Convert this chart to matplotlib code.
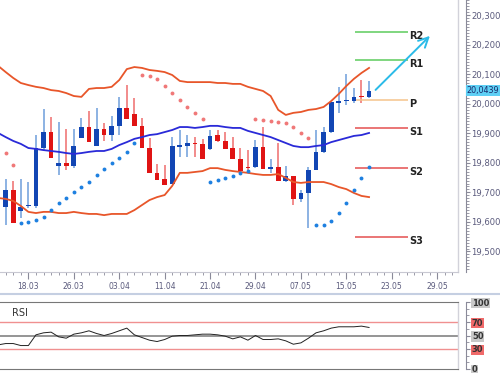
import numpy as np
import matplotlib
matplotlib.use('Agg')
import matplotlib.pyplot as plt
from matplotlib.lines import Line2D
from matplotlib.ticker import FixedLocator, MultipleLocator, FuncFormatter
import matplotlib.transforms as mtransforms

# daily candles, first one is cut off by the left edge
opens = [19.708, 19.651, 19.708, 19.637, 19.654, 19.654, 19.850, 19.904, 19.789, 19.799,
         19.789, 19.884, 19.921, 19.857, 19.914, 19.894, 19.925, 19.985, 19.965, 19.925,
         19.850, 19.766, 19.745, 19.728, 19.855, 19.857, 19.865, 19.864, 19.847, 19.894,
         19.874, 19.850, 19.813, 19.784, 19.786, 19.853, 19.779, 19.786, 19.738, 19.755,
         19.678, 19.698, 19.776, 19.837, 19.904, 20.004, 20.010, 20.009, 20.025, 20.023]
highs = [19.725, 19.745, 19.739, 19.745, 19.735, 19.894, 19.982, 19.955, 19.938, 19.914,
         19.914, 19.952, 19.975, 19.985, 19.935, 19.958, 20.023, 20.063, 20.019, 19.952,
         19.884, 19.796, 19.793, 19.887, 19.911, 19.894, 19.887, 19.881, 19.911, 19.911,
         19.904, 19.887, 19.850, 19.843, 19.877, 19.921, 19.813, 19.867, 19.789, 19.755,
         19.708, 19.786, 19.911, 19.921, 20.006, 20.057, 20.100, 20.053, 20.080, 20.077]
lows = [19.593, 19.590, 19.596, 19.613, 19.647, 19.647, 19.843, 19.816, 19.759, 19.776,
        19.782, 19.884, 19.870, 19.857, 19.874, 19.874, 19.894, 19.948, 19.925, 19.850,
        19.766, 19.742, 19.725, 19.728, 19.820, 19.820, 19.820, 19.813, 19.843, 19.870,
        19.847, 19.813, 19.769, 19.776, 19.782, 19.779, 19.766, 19.738, 19.735, 19.657,
        19.667, 19.580, 19.776, 19.833, 19.901, 19.969, 19.996, 20.002, 20.002, 20.019]
closes = [19.651, 19.708, 19.596, 19.651, 19.656, 19.850, 19.904, 19.816, 19.799, 19.789,
          19.857, 19.921, 19.870, 19.914, 19.894, 19.925, 19.985, 19.948, 19.925, 19.850,
          19.766, 19.742, 19.725, 19.857, 19.858, 19.867, 19.862, 19.813, 19.891, 19.874,
          19.847, 19.813, 19.772, 19.782, 19.853, 19.779, 19.786, 19.738, 19.755, 19.678,
          19.698, 19.776, 19.837, 19.904, 20.006, 20.007, 20.013, 20.023, 20.021, 20.044]

# bollinger bands
bb_upper = [20.128, 20.107, 20.087, 20.070, 20.063, 20.057, 20.053, 20.046, 20.043, 20.036,
            20.026, 20.023, 20.050, 20.053, 20.053, 20.057, 20.080, 20.117, 20.124, 20.121,
            20.114, 20.111, 20.107, 20.097, 20.077, 20.073, 20.073, 20.073, 20.073, 20.070,
            20.070, 20.067, 20.067, 20.057, 20.050, 20.043, 20.026, 19.979, 19.962, 19.969,
            19.972, 19.979, 19.982, 19.989, 20.009, 20.033, 20.060, 20.084, 20.104, 20.121]
bb_mid = [19.901, 19.887, 19.874, 19.864, 19.850, 19.847, 19.843, 19.840, 19.837, 19.833,
          19.830, 19.833, 19.837, 19.840, 19.840, 19.847, 19.860, 19.870, 19.881, 19.887,
          19.894, 19.897, 19.904, 19.911, 19.921, 19.921, 19.918, 19.921, 19.925, 19.925,
          19.921, 19.918, 19.918, 19.908, 19.901, 19.894, 19.887, 19.877, 19.867, 19.857,
          19.853, 19.853, 19.857, 19.860, 19.870, 19.877, 19.884, 19.891, 19.894, 19.901]
bb_lower = [19.681, 19.678, 19.671, 19.654, 19.634, 19.630, 19.634, 19.634, 19.630, 19.630,
            19.634, 19.630, 19.627, 19.627, 19.623, 19.627, 19.627, 19.627, 19.640, 19.657,
            19.674, 19.684, 19.691, 19.722, 19.766, 19.766, 19.769, 19.772, 19.782, 19.782,
            19.776, 19.772, 19.769, 19.766, 19.762, 19.759, 19.759, 19.762, 19.749, 19.735,
            19.732, 19.735, 19.735, 19.735, 19.728, 19.718, 19.711, 19.698, 19.688, 19.684]

# parabolic sar
sar = [np.nan, 19.833, 19.793, 19.596, 19.600, 19.607, 19.617, 19.640, 19.664, 19.681,
       19.701, 19.718, 19.735, 19.759, 19.779, 19.799, 19.816, 19.837, 19.867, 20.097,
       20.094, 20.084, 20.060, 20.036, 20.013, 19.989, 19.969, 19.948, 19.735, 19.742,
       19.749, 19.755, 19.766, 19.772, 19.948, 19.945, 19.941, 19.938, 19.935, 19.921,
       19.901, 19.884, 19.590, 19.590, 19.603, 19.630, 19.664, 19.708, 19.749, 19.786]

rsi = [36, 38, 38, 35, 35, 51, 54, 55, 48, 46,
       52, 54, 57, 53, 50, 53, 57, 61, 51, 47,
       43, 41, 44, 49, 50, 50, 51, 52, 52, 51,
       49, 45, 48, 43, 50, 44, 44, 45, 42, 37,
       39, 46, 54, 57, 61, 63, 63, 63, 64, 62]

# pivot levels
pivot_names = ['R2', 'R1', 'P', 'S1', 'S2', 'S3']
pivot_values = [20.244, 20.148, 20.014, 19.918, 19.783, 19.549]
pivot_colors = ['#5ccc5c', '#5ccc5c', '#f5c38c', '#e45050', '#e45050', '#e45050']

date_ticks = [3, 9, 15, 21, 27, 33, 39, 45, 51, 57]
date_labels = ['18.03', '26.03', '03.04', '11.04', '21.04', '29.04',
               '07.05', '15.05', '23.05', '29.05']
last_price = 20.0439

x = np.arange(-1, len(closes) - 1)
o = np.array(opens); c = np.array(closes)
h = np.array(highs); l = np.array(lows)
up = c >= o

blue_body, blue_wick = '#1246b4', '#79a6de'
red_body, red_wick = '#e01414', '#f07878'
band_col = '#e8562a'
mid_col = '#2a2ad8'
lab_col = '#5a5a7c'

fig = plt.figure(figsize=(5, 3.73), dpi=100)
fig.patch.set_facecolor('white')

# main price chart
ax = fig.add_axes([0, 1 - 272 / 373, 458 / 500, 272 / 373])
ax.set_xlim(-0.75, 59.75)
ax.set_ylim(19.4306, 20.3508)

ax.vlines(x, l, h, colors=np.where(up, blue_wick, red_wick), lw=1.2, zorder=2)
body_h = np.maximum(np.abs(c - o), 0.004)
ax.bar(x, body_h, bottom=np.minimum(o, c), width=0.62,
       color=np.where(up, blue_body, red_body), zorder=3)

ax.plot(x, bb_upper, c=band_col, lw=1.3, zorder=4)
ax.plot(x, bb_lower, c=band_col, lw=1.3, zorder=4)
ax.plot(x, bb_mid, c=mid_col, lw=1.3, zorder=4)

s = np.array(sar)
above = s > c
ax.plot(x[above], s[above], 'o', ms=2.8, c='#f07878', mec='none', zorder=5)
ax.plot(x[~above], s[~above], 'o', ms=2.8, c='#1e80e0', mec='none', zorder=5)

# pivot lines and labels
for name, val, col in zip(pivot_names, pivot_values, pivot_colors):
    ax.hlines(val, 46.1, 53.1, colors=col, lw=1.1, zorder=2)
    ax.annotate(name, (53.3, val), xytext=(0, -3), textcoords='offset points',
                fontsize=7, fontweight='bold', color='#222222', va='center', ha='left')

# projection arrow
ax.annotate('', xy=(56.3, 20.236), xytext=(48.6, 20.040),
            arrowprops=dict(arrowstyle='->,head_length=0.7,head_width=0.35',
                            color='#2bbbe8', lw=1.4))

for sp in ['left', 'top']:
    ax.spines[sp].set_visible(False)
ax.spines['bottom'].set_color('#c8c8d2')
ax.spines['right'].set_position(('outward', 6))
ax.spines['right'].set_color('#8a8a99')
ax.plot([1, 1], [0, 1], transform=ax.transAxes, c='#d2d2da', lw=1, clip_on=False)

ax.yaxis.tick_right()
ax.yaxis.set_major_locator(MultipleLocator(0.1))
ax.yaxis.set_minor_locator(MultipleLocator(0.01))
ax.yaxis.set_major_formatter(FuncFormatter(lambda v, p: f'{v:.3f}'.replace('.', ',')))
ax.tick_params(axis='y', which='major', length=3, width=0.8, color='#8a8a99',
               labelsize=6.1, labelcolor=lab_col, pad=0.5)
ax.tick_params(axis='y', which='minor', length=2, width=0.6, color='#8a8a99')

ax.xaxis.set_major_locator(FixedLocator(date_ticks))
ax.xaxis.set_minor_locator(MultipleLocator(1))
ax.set_xticklabels(date_labels)
ax.tick_params(axis='x', which='major', length=5, width=0.8, color='#8a8a99',
               labelsize=5.5, labelcolor=lab_col, pad=2)
ax.tick_params(axis='x', which='minor', length=2.5, width=0.6, color='#8a8a99')

# current price tag
trans = mtransforms.blended_transform_factory(ax.transAxes, ax.transData)
ax.text(1.019, last_price, '20,0439', transform=trans, fontsize=5.8, color='#1a2a6a',
        va='center', ha='left', bbox=dict(boxstyle='square,pad=0.12', fc='#5fd0f5', ec='none'))

# separator between panels
fig.add_artist(Line2D([0, 1], [1 - 294 / 373] * 2, color='#c5cfe2', lw=1.5))

# rsi panel
ax2 = fig.add_axes([0, 1 - 369 / 373, 458 / 500, 67 / 373])
ax2.set_xlim(-0.75, 59.75)
ax2.set_ylim(0, 100)
ax2.axhline(70, c='#f09090', lw=1)
ax2.axhline(30, c='#f09090', lw=1)
ax2.axhline(50, c='#8c8c8c', lw=1.3)
ax2.plot(x, rsi, c='#222222', lw=0.7)
ax2.text(0.8, 83, 'RSI', fontsize=7, color='#333333', va='center')

ax2.spines['left'].set_visible(False)
ax2.spines['top'].set_color('#777777')
ax2.spines['bottom'].set_color('#777777')
ax2.spines['right'].set_position(('outward', 6))
ax2.spines['right'].set_color('#8a8a99')
ax2.plot([1, 1], [0, 1], transform=ax2.transAxes, c='#d2d2da', lw=1, clip_on=False)
ax2.set_xticks([])
ax2.yaxis.tick_right()
ax2.set_yticks([0, 30, 50, 70, 100])
ax2.yaxis.set_minor_locator(MultipleLocator(10))
ax2.tick_params(axis='y', which='major', length=3, width=0.8, color='#8a8a99',
                labelsize=6, labelcolor='#333333', pad=1)
ax2.tick_params(axis='y', which='minor', length=2, width=0.6, color='#8a8a99')
for lab, v in zip(ax2.get_yticklabels(), [0, 30, 50, 70, 100]):
    fc = '#f06a6a' if v in (30, 70) else '#c8c8c8'
    lab.set_fontweight('bold')
    lab.set_bbox(dict(boxstyle='square,pad=0.1', fc=fc, ec='none'))

fig.savefig('out.png', dpi=100)
